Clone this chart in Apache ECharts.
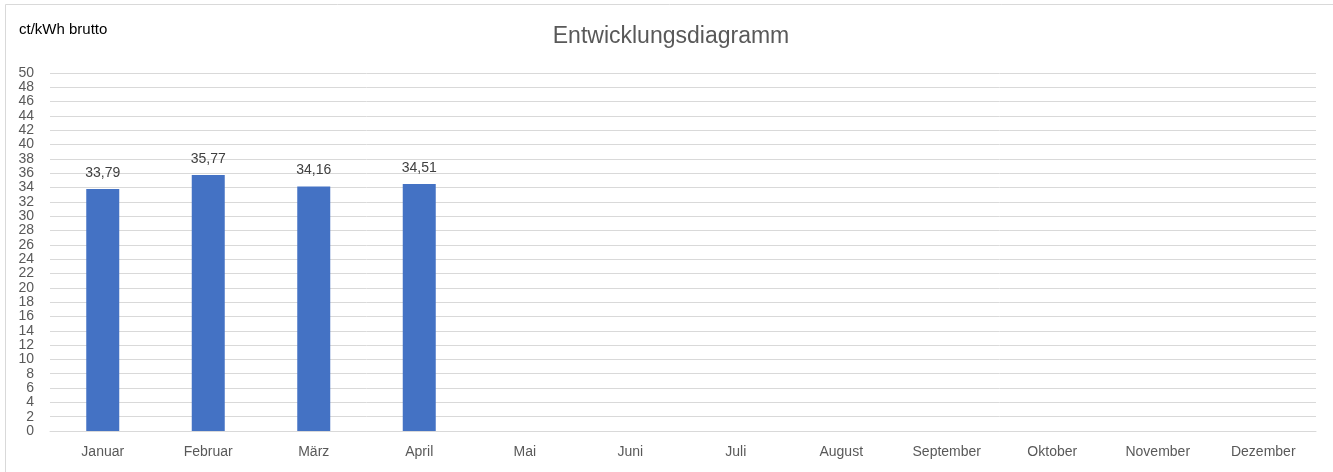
<!DOCTYPE html>
<html>
<head>
<meta charset="utf-8">
<script src="https://cdn.jsdelivr.net/npm/echarts@6/dist/echarts.min.js"></script>
<style>
html,body{margin:0;padding:0;background:#fff;}
#c{width:1333px;height:472px;}
</style>
</head>
<body>
<div id="c"></div>
<script>
var categories = ['Januar','Februar','März','April','Mai','Juni','Juli','August','September','Oktober','November','Dezember'];
var values = [33.79, 35.77, 34.16, 34.51, null, null, null, null, null, null, null, null];
var yMin = 0, yMax = 50, yStep = 2;
var chartTitle = 'Entwicklungsdiagramm';
var unitLabel = 'ct/kWh brutto';

var font = 'Liberation Sans';
var chart = echarts.init(document.getElementById('c'), null, {renderer:'canvas'});
chart.setOption({
  animation: false,
  backgroundColor: '#ffffff',
  textStyle: {fontFamily: font},
  graphic: [
    {
      type: 'rect', silent: true, z: -10,
      shape: {x: 5.5, y: 4.5, width: 1400, height: 600},
      style: {fill: 'none', stroke: '#d9d9d9', lineWidth: 1}
    },
    {
      type: 'text', silent: true, x: 671, y: 37,
      style: {text: chartTitle, font: 'normal 23px "Liberation Sans"', fill: '#595959', align: 'center', verticalAlign: 'middle'}
    },
    {
      type: 'text', silent: true, x: 19, y: 30,
      style: {text: unitLabel, font: 'normal 15px "Liberation Sans"', fill: '#000000', align: 'left', verticalAlign: 'middle'}
    }
  ],
  grid: {left: 50, right: 17, top: 73, bottom: 41, containLabel: false},
  xAxis: {
    type: 'category',
    data: categories,
    axisLine: {show: true, lineStyle: {color: '#d9d9d9'}},
    axisTick: {show: false},
    axisLabel: {color: '#595959', fontSize: 14, margin: 14, fontFamily: font, interval: 0}
  },
  yAxis: {
    type: 'value',
    min: yMin, max: yMax, interval: yStep,
    axisLine: {show: false},
    axisTick: {show: false},
    splitLine: {lineStyle: {color: '#d9d9d9', width: 1}},
    axisLabel: {color: '#595959', fontSize: 14, margin: 16, fontFamily: font, lineHeight: 14}
  },
  series: [{
    type: 'bar',
    data: values,
    barWidth: 33,
    itemStyle: {color: '#4472C4'},
    label: {
      show: true, position: 'top', distance: 9,
      color: '#404040', fontSize: 14, fontFamily: font,
      formatter: function(p){ return p.value == null ? '' : p.value.toFixed(2).replace('.', ','); }
    }
  }]
});
</script>
</body>
</html>
